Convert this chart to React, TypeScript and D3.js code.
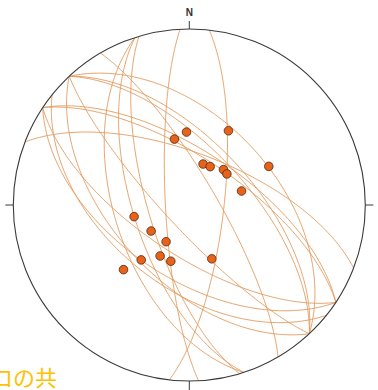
import React from "react";
import * as d3 from "d3";

// Fault planes (right-hand-rule strike / dip, degrees)
const planeStrikes = [177, 6.5, 163.4, 162, 329.7, 317, 317, 317, 137, 137, 128.8, 303.6, 303.6, 123.6, 123.6, 291, 162];
const planeDips = [79, 74, 71, 64, 77.5, 50, 61, 64, 55, 79, 52, 68, 65, 67, 56, 66, 55];

// Lineations (trend / plunge, degrees)
const pointTrends = [357.8, 347.3, 27.8, 18.6, 28.5, 44.0, 50.4, 64.1, 75.0, 258.1, 235.7, 212.3, 209.8, 221.2, 198.2, 157.3, 225.5];
const pointPlunges = [55.9, 58.5, 50.6, 70.0, 69.8, 67.2, 67.4, 48.4, 64.9, 63.8, 68.6, 69.9, 62.7, 55.9, 62.5, 62.9, 46.5];

const W = 378;
const H = 390;
const cx = 189.3;
const cy = 205;
const R = 176;
const rad = Math.PI / 180;

// Lambert equal-area, lower hemisphere
const radius = d3.scaleLinear().domain([0, 1]).range([0, R]);
function project(trend: number, plunge: number): [number, number] {
  const r = radius(Math.SQRT2 * Math.sin(((90 - plunge) / 2) * rad));
  return [cx + r * Math.sin(trend * rad), cy - r * Math.cos(trend * rad)];
}

function greatCircle(strike: number, dip: number): [number, number][] {
  const s = strike * rad;
  const dd = (strike + 90) * rad;
  const dp = dip * rad;
  const S = [Math.sin(s), Math.cos(s), 0];
  const D = [Math.cos(dp) * Math.sin(dd), Math.cos(dp) * Math.cos(dd), Math.sin(dp)];
  return d3.range(0, 180.5, 1).map((a) => {
    const ca = Math.cos(a * rad);
    const sa = Math.sin(a * rad);
    const e = ca * S[0] + sa * D[0];
    const n = ca * S[1] + sa * D[1];
    const z = Math.max(-1, Math.min(1, ca * S[2] + sa * D[2]));
    const trend = Math.atan2(e, n) / rad;
    const plunge = Math.asin(z) / rad;
    return project(trend, plunge);
  });
}

const line = d3.line<[number, number]>().curve(d3.curveLinear);

export default function App() {
  return (
    <div style={{ position: "absolute", left: 0, top: 0 }}>
      <svg width={W} height={H} style={{ display: "block", background: "#fff" }}>
        <defs>
          <clipPath id="net">
            <circle cx={cx} cy={cy} r={R} />
          </clipPath>
        </defs>
        <g clipPath="url(#net)">
          {planeStrikes.map((s, i) => (
            <path
              key={i}
              d={line(greatCircle(s, planeDips[i])) || ""}
              fill="none"
              stroke="#e39a5c"
              strokeWidth={0.9}
            />
          ))}
        </g>
        <circle cx={cx} cy={cy} r={R} fill="none" stroke="#3a3a3a" strokeWidth={1.1} />
        <line x1={cx} x2={cx} y1={cy - R - 8} y2={cy - R} stroke="#3a3a3a" strokeWidth={1} />
        <line x1={cx} x2={cx} y1={cy + R} y2={cy + R + 9} stroke="#3a3a3a" strokeWidth={1} />
        <line x1={cx - R - 8} x2={cx - R} y1={cy} y2={cy} stroke="#3a3a3a" strokeWidth={1} />
        <line x1={cx + R} x2={cx + R + 8} y1={cy} y2={cy} stroke="#3a3a3a" strokeWidth={1} />
        <text x={cx} y={16} textAnchor="middle" fontFamily="Liberation Sans, Arial, sans-serif" fontSize={10} fontWeight="bold" fill="#333">
          N
        </text>
        {pointTrends.map((t, i) => {
          const [x, y] = project(t, pointPlunges[i]);
          return <circle key={i} cx={x} cy={y} r={4.3} fill="#e8621a" stroke="#4e2810" strokeWidth={0.8} />;
        })}
        <text x={-9} y={386} fontFamily="Noto Sans CJK JP" fontSize={22} fill="#ffc000">
          ロの共
        </text>
      </svg>
    </div>
  );
}
